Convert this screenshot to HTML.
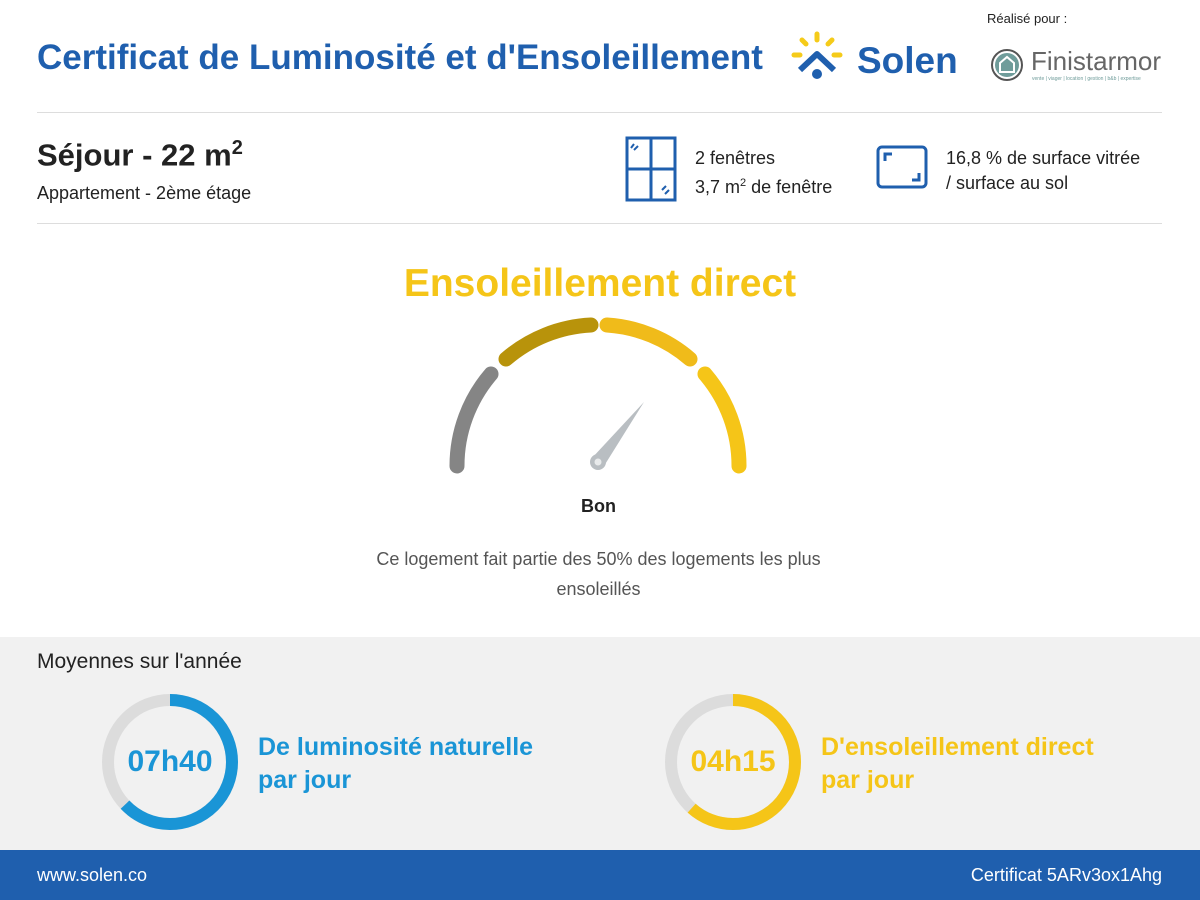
<!DOCTYPE html>
<html><head><meta charset="utf-8"><style>
body{margin:0;width:1200px;height:900px;position:relative;background:#fff;font-family:"Liberation Sans",sans-serif;overflow:hidden}
.a{position:absolute;white-space:nowrap}
</style></head><body>
<div class="a" style="left:37px;top:38px;font-size:35px;font-weight:bold;color:#1f5fae;letter-spacing:0px">Certificat de Luminosité et d'Ensoleillement</div>
<svg class="a" style="left:790px;top:30px" width="60" height="50"><g stroke="#f5cb1a" stroke-width="5" stroke-linecap="round"><line x1="27" y1="4" x2="27" y2="10"/><line x1="12" y1="10" x2="16" y2="14"/><line x1="42" y1="10" x2="38" y2="14"/><line x1="4" y1="25" x2="10" y2="25"/><line x1="44" y1="25" x2="50" y2="25"/></g><polyline points="10,40 27,24 44,40" fill="none" stroke="#1f5fae" stroke-width="6" stroke-linejoin="round"/><circle cx="27" cy="44" r="5" fill="#1f5fae"/></svg>
<div class="a" style="left:857px;top:40px;font-size:37px;font-weight:bold;color:#1f5fae">Solen</div>
<div class="a" style="left:987px;top:11px;font-size:13px;color:#222">Réalisé pour :</div>
<svg class="a" style="left:990px;top:48px" width="36" height="36"><circle cx="17" cy="17" r="15" fill="none" stroke="#555" stroke-width="2"/><circle cx="17" cy="17" r="12" fill="#6f9c9a"/><path d="M10 24 V15 L17 9 L24 15 V24Z" fill="none" stroke="#fff" stroke-width="2"/></svg>
<div class="a" style="left:1031px;top:46px;font-size:26px;color:#666">Finistarmor</div>
<div class="a" style="left:1032px;top:76px;font-size:5px;color:#6f9c9a">vente | viager | location | gestion | b&amp;b | expertise</div>
<div class="a" style="left:37px;top:112px;width:1125px;height:1px;background:#ddd"></div>
<div class="a" style="left:37px;top:137px;font-size:31px;font-weight:bold;color:#222">Séjour - 22 m<sup style="font-size:20px">2</sup></div>
<div class="a" style="left:37px;top:183px;font-size:18px;color:#222">Appartement - 2ème étage</div>
<svg class="a" style="left:625px;top:136px" width="52" height="66"><rect x="2" y="2" width="48" height="62" fill="none" stroke="#1f5fae" stroke-width="3"/><line x1="26" y1="2" x2="26" y2="64" stroke="#1f5fae" stroke-width="3"/><line x1="2" y1="33" x2="50" y2="33" stroke="#1f5fae" stroke-width="3"/><g stroke="#1f5fae" stroke-width="2"><line x1="6" y1="12" x2="9" y2="8"/><line x1="9" y1="14" x2="13" y2="10"/><line x1="37" y1="54" x2="41" y2="50"/><line x1="40" y1="58" x2="44" y2="54"/></g></svg>
<div class="a" style="left:695px;top:146px;font-size:18px;color:#222;line-height:25px">2 fenêtres<br>3,7 m<sup style="font-size:11px">2</sup> de fenêtre</div>
<svg class="a" style="left:876px;top:145px" width="52" height="44"><rect x="2" y="2" width="48" height="40" rx="4" fill="none" stroke="#1f5fae" stroke-width="3"/><polyline points="9,16 9,9 16,9" fill="none" stroke="#1f5fae" stroke-width="3"/><polyline points="36,35 43,35 43,28" fill="none" stroke="#1f5fae" stroke-width="3"/></svg>
<div class="a" style="left:946px;top:146px;font-size:18px;color:#222;line-height:25px">16,8 % de surface vitrée<br>/ surface au sol</div>
<div class="a" style="left:37px;top:223px;width:1125px;height:1px;background:#ddd"></div>
<div class="a" style="left:0;width:1200px;text-align:center;top:262px;font-size:39px;font-weight:bold;color:#f5c518">Ensoleillement direct</div>
<svg class="a" style="left:0;top:0" width="1200" height="640">
<g fill="none" stroke-width="15" stroke-linecap="round" transform="translate(598,466)">
<path d="M-141 0 A141 141 0 0 1 -107 -92" stroke="#858585"/>
<path d="M-92 -107 A141 141 0 0 1 -7 -141" stroke="#b8930b"/>
<path d="M9 -141 A141 141 0 0 1 92 -107" stroke="#f0bb1a"/>
<path d="M107 -92 A141 141 0 0 1 141 0" stroke="#f5c518"/>
</g>
<polygon points="592,458 604,466 644,402" fill="#b9bec2"/>
<circle cx="598" cy="462" r="8" fill="#b9bec2"/><circle cx="598" cy="462" r="3.5" fill="#e8eaeb"/>
</svg>
<div class="a" style="left:0;width:1197px;text-align:center;top:496px;font-size:18px;font-weight:bold;color:#222">Bon</div>
<div class="a" style="left:0;width:1197px;text-align:center;top:544px;font-size:18px;color:#555;line-height:30px;white-space:normal">Ce logement fait partie des 50% des logements les plus<br>ensoleillés</div>
<div class="a" style="left:0;top:637px;width:1200px;height:213px;background:#f1f1f1"></div>
<div class="a" style="left:37px;top:650px;font-size:21px;color:#222">Moyennes sur l'année</div>
<svg class="a" style="left:0;top:637px" width="1200" height="213">
<circle cx="170" cy="125" r="62" fill="none" stroke="#dcdcdc" stroke-width="12"/>
<circle cx="170" cy="125" r="62" fill="none" stroke="#1a95d6" stroke-width="12" stroke-dasharray="245 400" transform="rotate(-90 170 125)"/>
<circle cx="733" cy="125" r="62" fill="none" stroke="#dcdcdc" stroke-width="12"/>
<circle cx="733" cy="125" r="62" fill="none" stroke="#f5c518" stroke-width="12" stroke-dasharray="240 400" transform="rotate(-90 733 125)"/>
</svg>
<div class="a" style="left:120px;top:745px;width:100px;text-align:center;font-size:30px;font-weight:bold;color:#1a95d6">07h40</div>
<div class="a" style="left:683px;top:745px;width:100px;text-align:center;font-size:30px;font-weight:bold;color:#f5c518">04h15</div>
<div class="a" style="left:258px;top:731px;font-size:25px;font-weight:bold;color:#1a95d6;line-height:33px">De luminosité naturelle<br>par jour</div>
<div class="a" style="left:821px;top:731px;font-size:25px;font-weight:bold;color:#f5c518;line-height:33px">D'ensoleillement direct<br>par jour</div>
<div class="a" style="left:0;top:850px;width:1200px;height:50px;background:#1f5fae"></div>
<div class="a" style="left:37px;top:865px;font-size:18px;color:#fff">www.solen.co</div>
<div class="a" style="right:38px;top:865px;font-size:18px;color:#fff">Certificat 5ARv3ox1Ahg</div>
</body></html>
